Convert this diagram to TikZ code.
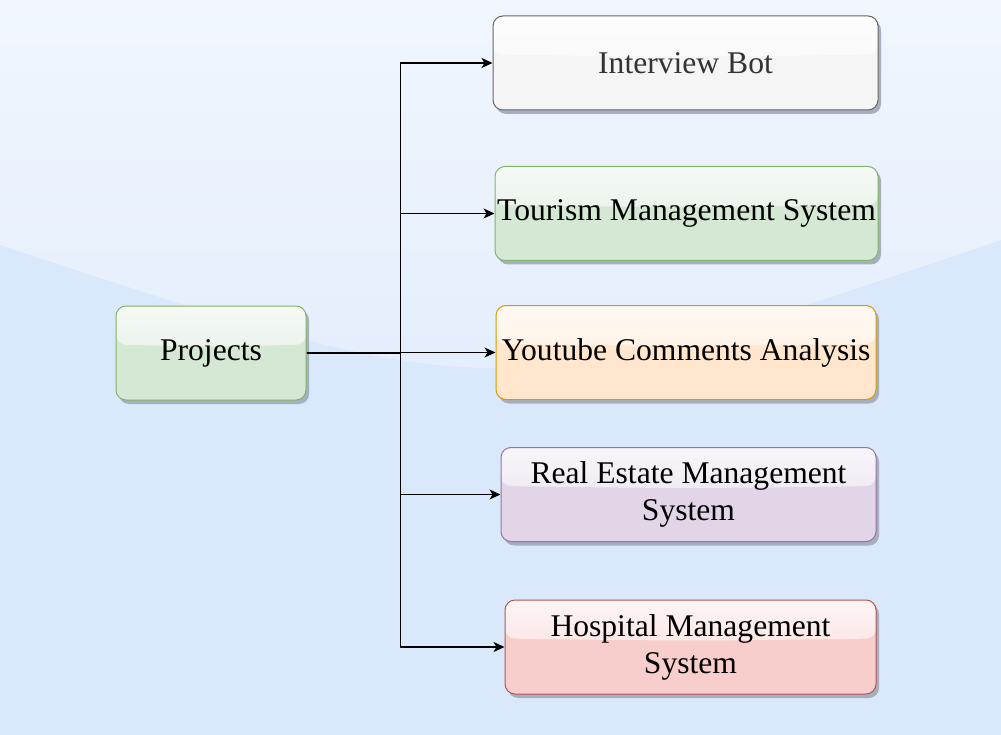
\documentclass[tikz,border=0pt]{standalone}
\usepackage{fontspec}
\setmainfont{Liberation Serif}
\usetikzlibrary{shadows,calc,arrows.meta}
\definecolor{bgtop}{HTML}{F1F6FE}
\definecolor{bgmid}{HTML}{E3EDFC}
\definecolor{bgbot}{HTML}{DAE8FC}
\definecolor{shadowcol}{HTML}{A3ACBD}
\definecolor{grayfill}{HTML}{F5F5F5}\definecolor{graydraw}{HTML}{666666}
\definecolor{greenfill}{HTML}{D5E8D4}\definecolor{greendraw}{HTML}{82B366}
\definecolor{orangefill}{HTML}{FFE6CC}\definecolor{orangedraw}{HTML}{D79B00}
\definecolor{purplefill}{HTML}{E1D5E7}\definecolor{purpledraw}{HTML}{9673A6}
\definecolor{redfill}{HTML}{F8CECC}\definecolor{reddraw}{HTML}{B85450}
\tikzset{
	box/.style 2 args={rounded corners=10pt, draw=#2, fill=#1, line width=1pt,
		minimum height=94pt, inner sep=0pt, align=center,
		drop shadow={shadow xshift=3pt, shadow yshift=-4pt, fill=shadowcol, opacity=0.95},
		path picture={\shade[top color=white, bottom color=#1!75!white, opacity=0.8]
			(path picture bounding box.north west) -- (path picture bounding box.north east)
			-- ($(path picture bounding box.north east)!0.82!(path picture bounding box.east)$)
			.. controls ($(path picture bounding box.center)+(0,6pt)$) ..
			($(path picture bounding box.north west)!0.82!(path picture bounding box.west)$) -- cycle;}},
	link/.style={line width=1.5pt, ->, >={Stealth[length=11pt,width=10pt,inset=3pt]}}
}
\begin{document}
\begin{tikzpicture}[x=1pt,y=-1pt, font=\fontsize{31.6}{37}\selectfont, line join=round]
	\useasboundingbox (0,0) rectangle (1001,735);
	% background
	\fill[bgbot] (0,0) rectangle (1001,735);
	\shade[top color=bgtop, bottom color=bgmid] (0,0) -- (1001,0) -- (1001,240)
		.. controls (500,410) .. (0,245) -- cycle;
	% nodes
	\node[box={greenfill}{greendraw}, minimum width=190pt] (p) at (211,353) {Projects};
	\node[box={grayfill}{graydraw}, minimum width=385pt, text=black!80] (b1) at (685.5,63) {Interview Bot};
	\node[box={greenfill}{greendraw}, minimum width=383pt] (b2) at (686.5,213.5) {Tourism Management System};
	\node[box={orangefill}{orangedraw}, minimum width=380pt] (b3) at (686,352.5) {Youtube Comments Analysis};
	\node[box={purplefill}{purpledraw}, minimum width=375pt] (b4) at (688.5,494.5) {Real Estate Management\\System};
	\node[box={redfill}{reddraw}, minimum width=371pt] (b5) at (690.5,647) {Hospital Management\\System};
	% connectors
	\foreach \i in {1,...,5}{\draw[link] (p.east) -- ++(94,0) |- (b\i.west);}
\end{tikzpicture}
\end{document}
